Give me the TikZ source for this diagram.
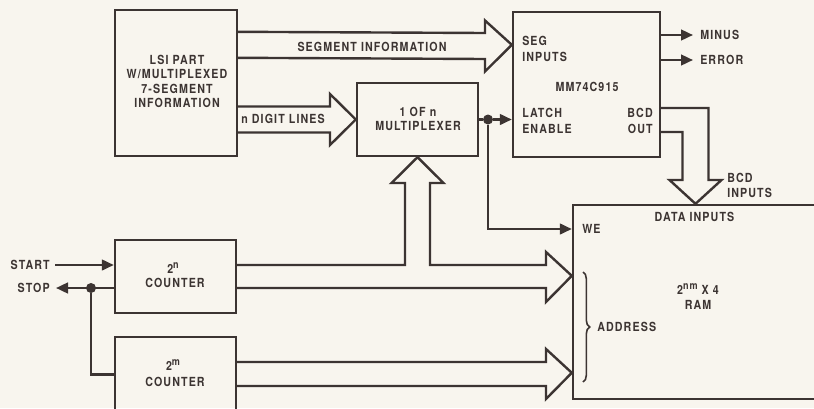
\documentclass[tikz,border=0pt]{standalone}
\usepackage{fontspec}
\setmainfont{TeX Gyre Heros}[LetterSpace=9,FakeStretch=0.85]
\usetikzlibrary{arrows.meta,fit,calc,decorations.pathreplacing}
\definecolor{ink}{RGB}{60,52,50}
\definecolor{paper}{RGB}{248,245,238}
\newcommand\myup[1]{\raisebox{3.6pt}{\fontsize{8}{8}\selectfont #1}}
\begin{document}
\begin{tikzpicture}[x=0.75pt,y=-0.75pt,
  box/.style={draw=ink,line width=1.8pt,inner sep=0pt},
  txt/.style={text=ink,font=\bfseries\fontsize{9.4}{10.7}\selectfont,inner sep=0pt,align=center},
  txtw/.style={txt,font=\bfseries\fontsize{9.4}{12}\selectfont},
  wire/.style={draw=ink,line width=1.8pt,line join=miter},
  fat/.style={wire},
  arr/.style={wire,-{Triangle[length=9pt,width=8pt]}},
  dot/.style={circle,fill=ink,inner sep=0pt,minimum size=7.5pt}]
\useasboundingbox (0,0) rectangle (814,408);
\fill[paper] (0,0) rectangle (814,408);

% boxes
\node[box,fit={(115,10) (237,156)}] (lsi) {};
\node[box,fit={(357,83) (478,156)}] (mux) {};
\node[box,fit={(513,12) (660,157)}] (mm) {};
\node[box,fit={(573,205) (818,399)}] (ram) {};
\node[box,fit={(115,240) (236,313)}] (cn) {};
\node[box,fit={(115,337) (236,412)}] (cm) {};

% texts
\node[txt] (lsit) at (177,81.5) {LSI PART\\W/MULTIPLEXED\\7-SEGMENT\\INFORMATION};
\node[txt] (muxt) at (418,119) {1 OF n\\MULTIPLEXER};
\node[txt] (segt) at (372,47) {SEGMENT INFORMATION};
\node[txt] (digt) at (283,119) {n DIGIT LINES};
\node[txtw,anchor=west,align=left] (segin) at (522,48.5) {SEG\\INPUTS};
\node[txt] (mmt) at (587,87) {MM74C915};
\node[txtw,anchor=west,align=left] (latch) at (522,120.5) {LATCH\\ENABLE};
\node[txtw,anchor=east,align=right] (bcdo) at (653,120.5) {BCD\\OUT};
\node[txt,anchor=west] (minus) at (700,35) {MINUS};
\node[txt,anchor=west] (error) at (700,60) {ERROR};
\node[txt,anchor=west,align=left] (bcdi) at (727,185.5) {BCD\\INPUTS};
\node[txt] (datai) at (694.5,217) {DATA INPUTS};
\node[txt,anchor=west] (we) at (582,229) {WE};
\node[txt] (ramt1) at (698,289) {2\myup{nm} X 4};
\node[txt] (ramt2) at (698,305) {RAM};
\node[txt,anchor=west] (addr) at (597,327) {ADDRESS};
\node[txt] (cnt1) at (173,268) {2\myup{n}};
\node[txt] (cnt2) at (175,283) {COUNTER};
\node[txt] (cmt1) at (173,365) {2\myup{m}};
\node[txt] (cmt2) at (175,382) {COUNTER};
\node[txt,anchor=east] (start) at (50,265) {START};
\node[txt,anchor=east] (stop) at (50,288) {STOP};

% fat arrows
\draw[fat] ($(lsi.north east)+(0,23)$) -- (485,33) -- (485,20.5) -- ($(mm.north west)+(0,34)$)
  -- (485,71.5) -- (485,59) -- ($(lsi.north east)+(0,49)$);
\draw[fat] (lsi.east |- 0,106.5) -- (330,106.5) -- (330,94) -- (mux.west)
  -- (330,145) -- (330,132.5) -- (lsi.east |- 0,132.5);
\draw[fat] (cn.east |- 0,265) -- (405,265) -- (405,183) -- (391.5,183) -- (mux.south)
  -- (443.5,183) -- (430,183) -- (430,265) -- (546,265) -- (546,252)
  -- ($(ram.north west)+(0,72)$) -- (546,302) -- (546,288) -- (cn.east |- 0,288);
\draw[fat] (cm.east |- 0,362) -- (546,362) -- (546,349) -- ($(ram.north west)+(0,169)$)
  -- (546,399) -- (546,386) -- (cm.east |- 0,386);
\draw[fat] (mm.east |- 0,108) -- (708.5,108) -- (708.5,180) -- (721.5,180) -- (ram.north)
  -- (669.5,180) -- (682.5,180) -- (682.5,132) -- (mm.east |- 0,132);

% thin connectors
\node[dot] (jd) at (488,119.5) {};
\node[dot] (js) at (91,288) {};
\draw[wire] (mux.east) -- (jd);
\draw[arr] (jd) -- (jd -| mm.west);
\draw[arr] (jd) |- (ram.west |- we);
\draw[arr] (mm.east |- minus) -- ($(minus.west)+(-7,0)$);
\draw[arr] (mm.east |- error) -- ($(error.west)+(-7,0)$);
\draw[arr] ($(start.east)+(5,0)$) -- (cn.west |- start);
\draw[arr] (cn.west |- stop) -- ($(stop.east)+(6,0)$);
\draw[wire] (js) |- (cm.west);

% brace
\draw[draw=ink,line width=1.2pt,decorate,decoration={brace,amplitude=5pt}] (583,272) -- (583,382);
\end{tikzpicture}
\end{document}
